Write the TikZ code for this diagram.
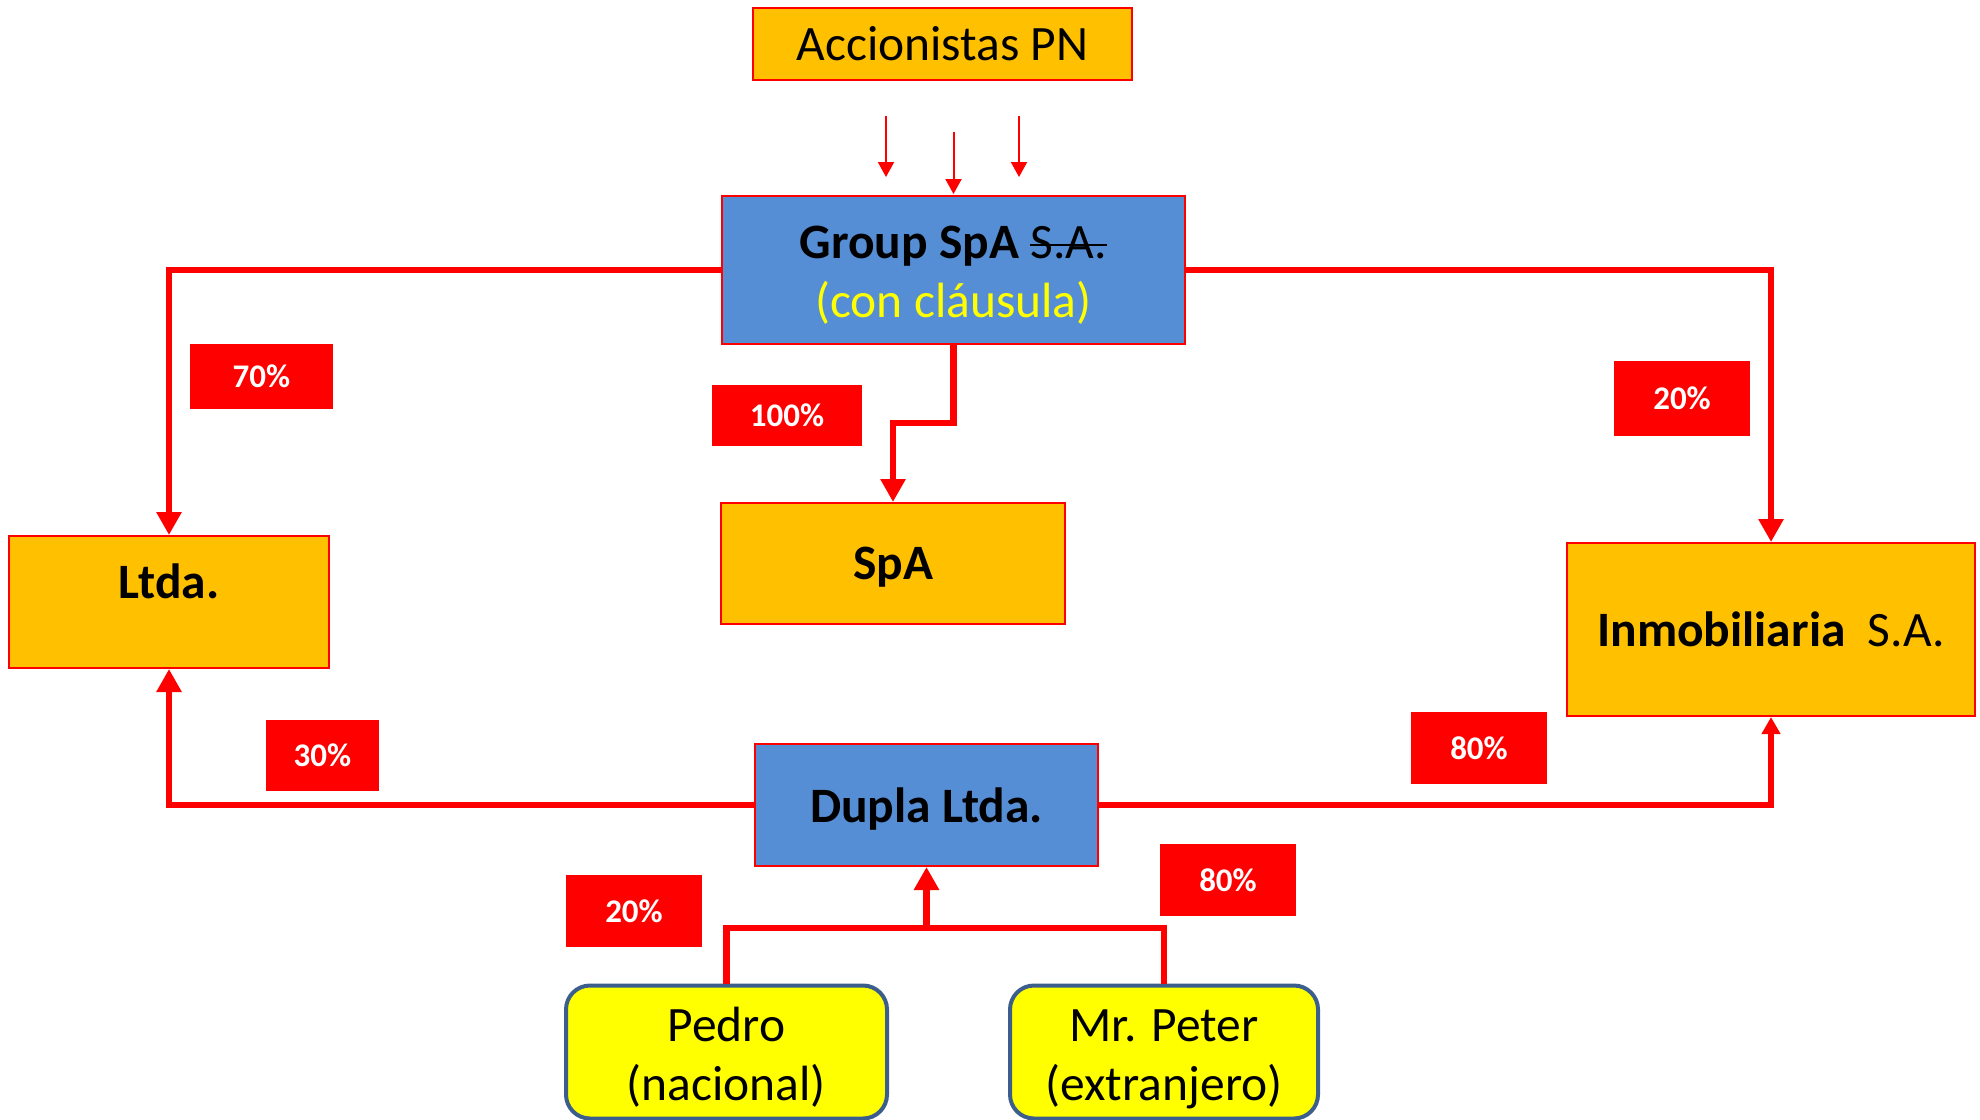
\documentclass[tikz,border=0pt]{standalone}
\usepackage{fontspec}
\setmainfont{Carlito}
\usetikzlibrary{arrows.meta}
\newcommand\mystrike[1]{\setbox0\hbox{#1}\rlap{\rule[0.24em]{\wd0}{2.5pt}}\box0}
\newcommand\twolines[3]{\setbox2\hbox{\begin{tabular}{@{}c@{}}#1\\#2\end{tabular}}\raisebox{0pt}[\dimexpr\ht2+#3\relax][\dp2]{\copy2}}
\definecolor{orng}{HTML}{FFC000}
\definecolor{blu}{HTML}{558ED5}
\definecolor{rd}{HTML}{FF0000}
\definecolor{yel}{HTML}{FFFF00}
\definecolor{dkb}{HTML}{3B5E8C}
\tikzset{
  box/.style={draw=rd, line width=2pt, inner sep=0pt, align=center, font=\fontsize{49.5}{59}\selectfont},
  obox/.style={box, fill=orng},
  bbox/.style={box, fill=blu},
  ybox/.style={draw=dkb, fill=yel, line width=4pt, rounded corners=24pt, inner sep=0pt, align=center, font=\fontsize{49.5}{59}\selectfont},
  pct/.style={fill=rd, inner sep=0pt, text=white, font=\fontsize{33}{40}\selectfont\bfseries},
  conn/.style={draw=rd, line width=6.5pt},
  bigtip/.style={-{Triangle[width=24pt,length=23pt]}},
  smalltip/.style={-{Triangle[width=18pt,length=17pt]}},
  thin/.style={draw=rd, line width=2pt, -{Triangle[width=16pt,length=15pt]}}
}
\begin{document}
\begin{tikzpicture}[x=1pt,y=-1pt]
\useasboundingbox (0,0) rectangle (1980,1119);
% boxes
\node[obox, minimum width=379, minimum height=72] (accion) at (942.5,44) {Accionistas PN};
\node[bbox, minimum width=463, minimum height=148] (group) at (953.5,270)
  {\twolines{\textbf{Group SpA} \mystrike{S.A.}}{\textcolor{yel}{(con cláusula)}}{12pt}};
\node[obox, minimum width=320, minimum height=132] (ltda) at (169,602) {};
\node[font=\fontsize{49.5}{59}\selectfont\bfseries] (ltdatext) at (169,581) {Ltda.};
\node[obox, minimum width=344, minimum height=121, text depth=0pt] (spa) at (893,563.5) {\textbf{SpA}};
\node[obox, minimum width=408, minimum height=173] (inmob) at (1771,629.5) {\textbf{Inmobiliaria}\ \ S.A.};
\node[bbox, minimum width=343, minimum height=122, text depth=0pt] (dupla) at (926.5,805) {\textbf{Dupla Ltda.}};
\node[ybox, minimum width=321, minimum height=130] (pedro) at (726.5,1052) {\twolines{Pedro}{(nacional)}{15pt}};
\node[ybox, minimum width=308, minimum height=130] (peter) at (1164,1052) {\twolines{Mr. Peter}{(extranjero)}{15pt}};
% small arrows
\coordinate (s1a) at (886,116); \coordinate (s1b) at (886,177);
\coordinate (s2a) at (953.5,132); \coordinate (s2b) at (953.5,194);
\coordinate (s3a) at (1019,116); \coordinate (s3b) at (1019,177);
\draw[thin] (s1a) -- (s1b);
\draw[thin] (s2a) -- (s2b);
\draw[thin] (s3a) -- (s3b);
% connectors
\draw[conn, bigtip] (group.west) -| (ltda.north);
\draw[conn, bigtip] (group.east) -| (inmob.north);
\coordinate (gs) at (953.5,423);
\draw[conn, bigtip] (group.south) -- (gs) -| (spa.north);
\draw[conn, bigtip] (dupla.west) -| (ltda.south);
\draw[conn, smalltip] (dupla.east) -| (inmob.south);
\coordinate (j) at (926.5,928);
\draw[conn] (pedro.north) |- (j) -| (peter.north);
\draw[conn, bigtip] (j) -- (dupla.south);
% percentage labels
\node[pct, minimum width=143, minimum height=65] (p70) at (261.5,376.5) {70\%};
\node[pct, minimum width=150, minimum height=61] (p100) at (787,415.5) {100\%};
\node[pct, minimum width=136, minimum height=75] (p20a) at (1682,398.5) {20\%};
\node[pct, minimum width=113, minimum height=71] (p30) at (322.5,755.5) {30\%};
\node[pct, minimum width=136, minimum height=72] (p80a) at (1479,748) {80\%};
\node[pct, minimum width=136, minimum height=72] (p20b) at (634,911) {20\%};
\node[pct, minimum width=136, minimum height=72] (p80b) at (1228,880) {80\%};
\end{tikzpicture}
\end{document}
